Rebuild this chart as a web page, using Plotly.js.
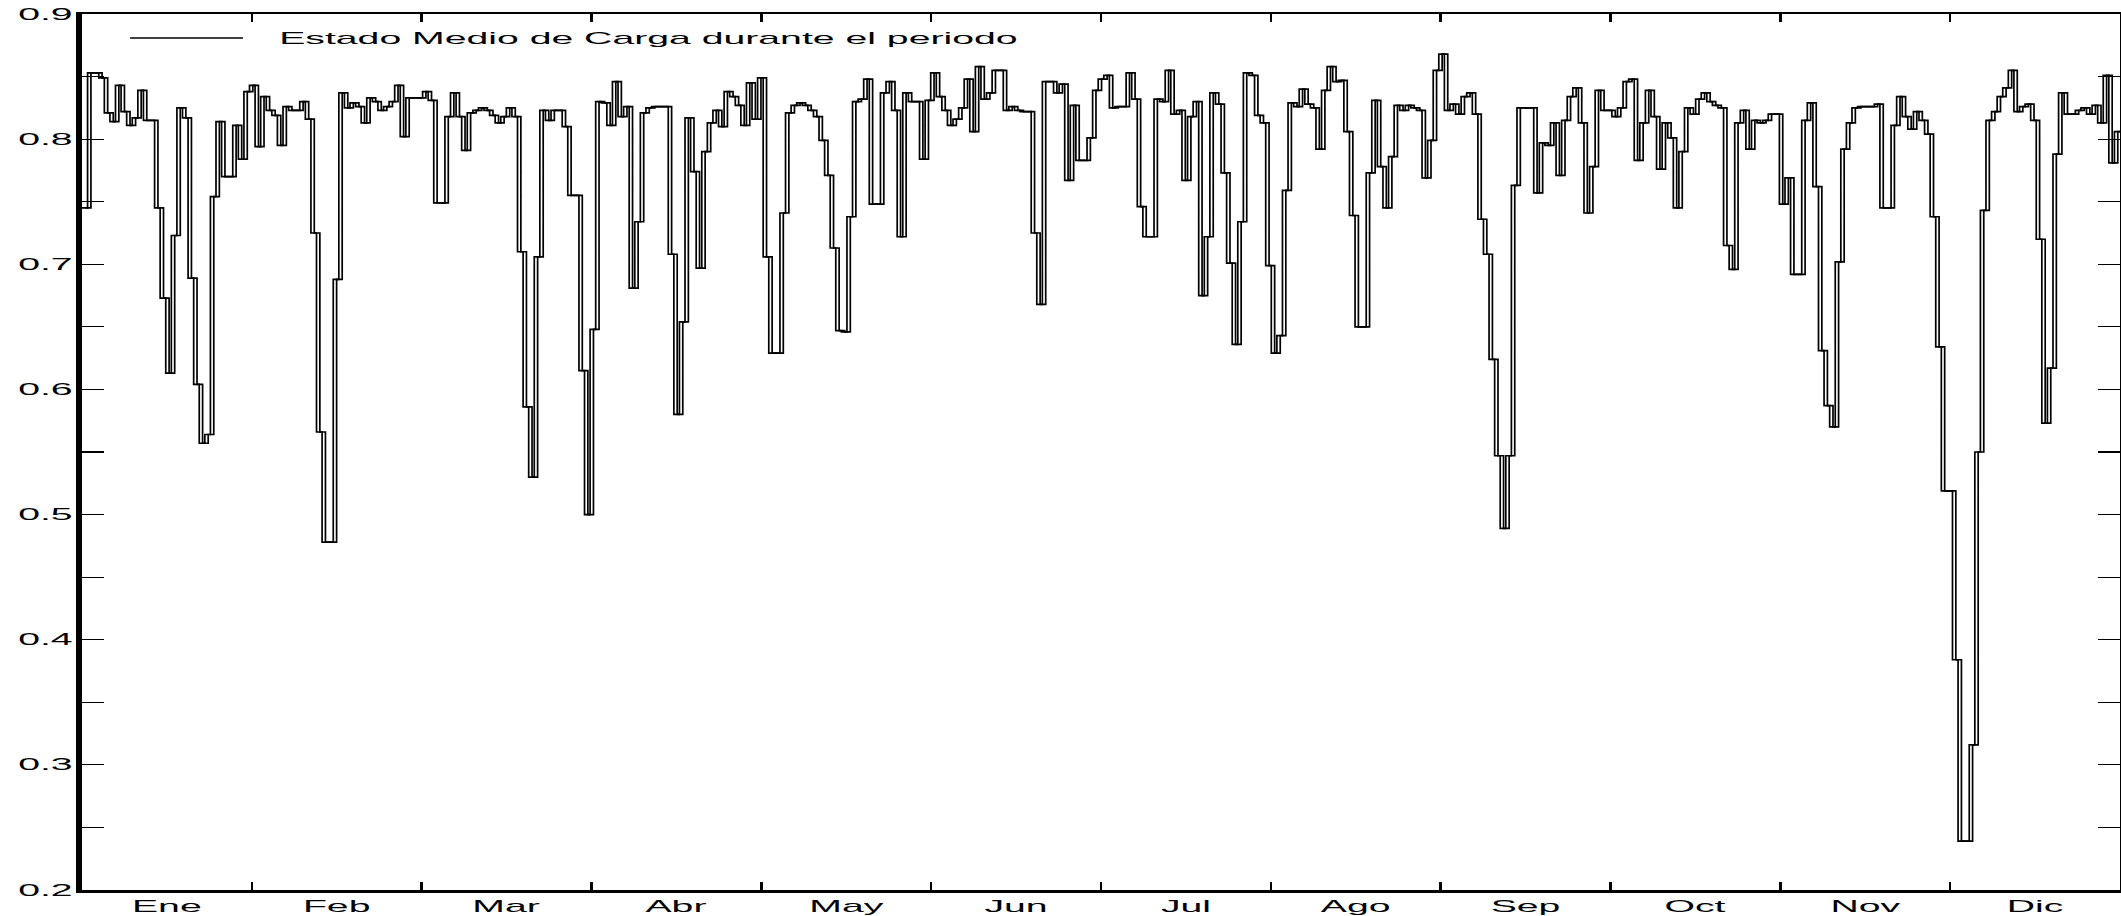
<!DOCTYPE html>
<html>
<head>
<meta charset="utf-8">
<script src="https://cdn.plot.ly/plotly-3.0.1.min.js"></script>
<style>
  html, body { margin: 0; padding: 0; background: #ffffff; overflow: hidden; }
  #chart { width: 2121px; height: 916px; }
</style>
</head>
<body>
<div id="chart"></div>
<script>
// Daily mean state of charge over the year (one value per day)
const estadoCarga = [
  0.745, 0.853, 0.853, 0.849, 0.821, 0.814, 0.843, 0.822, 0.811, 0.817,
  0.839, 0.815, 0.815, 0.745, 0.673, 0.613, 0.723, 0.825, 0.817, 0.689,
  0.604, 0.557, 0.564, 0.754, 0.814, 0.770, 0.770, 0.811, 0.784, 0.838,
  0.843, 0.794, 0.834, 0.823, 0.819, 0.795, 0.826, 0.823, 0.823, 0.830,
  0.816, 0.725, 0.566, 0.478, 0.478, 0.688, 0.837, 0.825, 0.829, 0.826,
  0.813, 0.833, 0.830, 0.823, 0.826, 0.830, 0.843, 0.802, 0.833, 0.833,
  0.833, 0.838, 0.831, 0.749, 0.749, 0.818, 0.837, 0.818, 0.791, 0.821,
  0.823, 0.825, 0.823, 0.819, 0.813, 0.818, 0.825, 0.818, 0.710, 0.586,
  0.530, 0.706, 0.823, 0.815, 0.823, 0.823, 0.810, 0.755, 0.755, 0.615,
  0.500, 0.648, 0.830, 0.829, 0.811, 0.846, 0.818, 0.826, 0.681, 0.734,
  0.821, 0.825, 0.826, 0.826, 0.826, 0.708, 0.580, 0.654, 0.817, 0.774,
  0.697, 0.790, 0.813, 0.823, 0.810, 0.838, 0.834, 0.827, 0.811, 0.845,
  0.816, 0.849, 0.706, 0.629, 0.629, 0.741, 0.821, 0.827, 0.829, 0.827,
  0.823, 0.818, 0.799, 0.771, 0.713, 0.647, 0.646, 0.738, 0.830, 0.832,
  0.848, 0.748, 0.748, 0.837, 0.846, 0.823, 0.722, 0.837, 0.830, 0.830,
  0.784, 0.831, 0.853, 0.834, 0.823, 0.811, 0.816, 0.825, 0.848, 0.806,
  0.858, 0.832, 0.837, 0.855, 0.855, 0.823, 0.826, 0.823, 0.822, 0.822,
  0.725, 0.668, 0.846, 0.846, 0.837, 0.844, 0.767, 0.827, 0.783, 0.783,
  0.801, 0.839, 0.848, 0.851, 0.825, 0.826, 0.826, 0.853, 0.832, 0.746,
  0.722, 0.722, 0.832, 0.830, 0.855, 0.820, 0.823, 0.767, 0.818, 0.830,
  0.675, 0.722, 0.837, 0.828, 0.773, 0.701, 0.636, 0.734, 0.853, 0.851,
  0.819, 0.813, 0.699, 0.629, 0.643, 0.759, 0.829, 0.826, 0.840, 0.828,
  0.825, 0.792, 0.839, 0.858, 0.846, 0.847, 0.806, 0.739, 0.650, 0.650,
  0.773, 0.831, 0.778, 0.745, 0.786, 0.827, 0.823, 0.827, 0.825, 0.823,
  0.769, 0.799, 0.855, 0.868, 0.823, 0.828, 0.820, 0.834, 0.837, 0.820,
  0.736, 0.708, 0.624, 0.547, 0.489, 0.547, 0.763, 0.825, 0.825, 0.825,
  0.757, 0.797, 0.795, 0.813, 0.771, 0.815, 0.834, 0.841, 0.813, 0.741,
  0.778, 0.839, 0.823, 0.823, 0.818, 0.825, 0.846, 0.848, 0.783, 0.813,
  0.839, 0.818, 0.776, 0.813, 0.801, 0.745, 0.790, 0.825, 0.820, 0.832,
  0.837, 0.830, 0.827, 0.825, 0.715, 0.696, 0.813, 0.823, 0.792, 0.815,
  0.813, 0.815, 0.820, 0.820, 0.748, 0.769, 0.692, 0.692, 0.815, 0.829,
  0.762, 0.631, 0.587, 0.570, 0.702, 0.792, 0.813, 0.825, 0.826, 0.826,
  0.826, 0.828, 0.745, 0.745, 0.811, 0.834, 0.818, 0.808, 0.822, 0.815,
  0.804, 0.738, 0.634, 0.519, 0.519, 0.384, 0.239, 0.239, 0.316, 0.550,
  0.743, 0.815, 0.822, 0.834, 0.841, 0.855, 0.822, 0.826, 0.828, 0.815,
  0.720, 0.573, 0.617, 0.788, 0.837, 0.820, 0.820, 0.823, 0.825, 0.820,
  0.827, 0.813, 0.851, 0.781, 0.806
];

const monthLabels = ['Ene', 'Feb', 'Mar', 'Abr', 'May', 'Jun',
                     'Jul', 'Ago', 'Sep', 'Oct', 'Nov', 'Dic'];
const yTickVals = [0.2, 0.3, 0.4, 0.5, 0.6, 0.7, 0.8, 0.9];
const yTickText = ['0.2', '0.3', '0.4', '0.5', '0.6', '0.7', '0.8', '0.9'];
const legendLabel = 'Estado Medio de Carga durante el periodo';

// ---- derived structures ----
const nDays = estadoCarga.length;
const dayX = estadoCarga.map((_, i) => i).concat([nDays]);
const stepY = estadoCarga.concat([estadoCarga[nDays - 1]]);
const edgeShift = 0.6;              // second stroke gives the double-edged verticals
const monthLen = nDays / 12;
const monthBounds = monthLabels.slice(1).map((_, k) => (k + 1) * monthLen);
const monthCenters = monthLabels.map((_, k) => (k + 0.5) * monthLen);

const FONT = '"Liberation Sans", Arial, Helvetica, sans-serif';
const TXT = '#000000';

const lineStyle = { shape: 'hv', color: '#000000', width: 1.7 };

const traces = [
  { x: dayX, y: stepY, type: 'scatter', mode: 'lines', line: lineStyle,
    xaxis: 'x', yaxis: 'y', name: legendLabel, showlegend: false, hoverinfo: 'skip' },
  { x: dayX.map(v => v + edgeShift), y: stepY, type: 'scatter', mode: 'lines', line: lineStyle,
    xaxis: 'x2', yaxis: 'y', name: legendLabel, showlegend: false, hoverinfo: 'skip' }
];

const layout = {
  width: 2121, height: 916,
  margin: { l: 82, r: 1, t: 14, b: 26, pad: 0 },
  paper_bgcolor: '#ffffff', plot_bgcolor: '#ffffff',
  showlegend: false,
  font: { family: FONT, size: 16, color: TXT },
  xaxis: {
    range: [0, nDays], tickmode: 'array', tickvals: monthBounds,
    showticklabels: false, ticks: 'inside', ticklen: 8, tickwidth: 2.5, tickcolor: '#000',
    showline: true, linewidth: 2.5, linecolor: '#000', mirror: 'allticks',
    showgrid: false, zeroline: false, fixedrange: true
  },
  xaxis2: {
    overlaying: 'x', anchor: 'y', side: 'bottom', range: [0, nDays],
    tickmode: 'array', tickvals: monthCenters, ticktext: monthLabels,
    ticks: '', showline: false, showgrid: false, zeroline: false,
    ticklabelstandoff: 5,
    tickfont: { family: FONT, size: 16, color: TXT }, fixedrange: true
  },
  yaxis: {
    range: [0.2, 0.9], tickmode: 'array', tickvals: yTickVals, ticktext: yTickText,
    ticks: 'inside', ticklen: 22, tickwidth: 1.2, tickcolor: '#000',
    showline: true, linewidth: 6, linecolor: '#000', mirror: 'allticks',
    minor: { tickmode: 'linear', tick0: 0.25, dtick: 0.1, ticks: 'inside',
             ticklen: 10, tickwidth: 1.2, tickcolor: '#000' },
    showgrid: false, zeroline: false, fixedrange: true,
    tickfont: { family: FONT, size: 16, color: TXT }
  },
  shapes: [{
    type: 'line', xref: 'paper', yref: 'paper',
    x0: 0.0236, x1: 0.0790, y0: 0.9726, y1: 0.9726,
    line: { color: '#000', width: 1.3 }
  }],
  annotations: [{
    xref: 'paper', yref: 'paper', x: 0.0957, y: 0.9726,
    xanchor: 'left', yanchor: 'middle', showarrow: false,
    text: legendLabel, font: { family: FONT, size: 16, color: TXT }
  }]
};

// The reference's lettering is stretched horizontally; reproduce that on the real text nodes.
function stretchText(gd, k) {
  const nodes = gd.querySelectorAll('.xtick text, .x2tick text, .ytick text, text.annotation-text');
  nodes.forEach(el => {
    const bb = el.getBBox();
    const anchor = el.getAttribute('text-anchor') || 'start';
    let cx = bb.x;
    if (el.classList.contains('annotation-text')) cx = bb.x;
    else if (anchor === 'end') cx = bb.x + bb.width;
    else if (anchor === 'middle') cx = bb.x + bb.width / 2;
    const t = el.getAttribute('transform') || '';
    el.setAttribute('transform', t + ' translate(' + cx + ',0) scale(' + k + ',1) translate(' + (-cx) + ',0)');
  });
}

Plotly.newPlot('chart', traces, layout, { staticPlot: true, displayModeBar: false })
  .then(gd => stretchText(gd, 2.45));
</script>
</body>
</html>
